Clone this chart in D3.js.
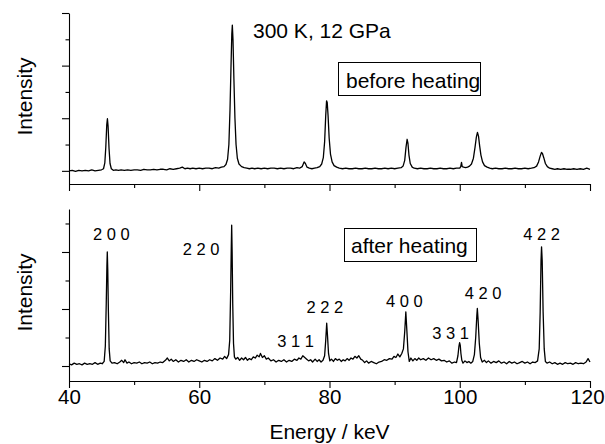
<!DOCTYPE html>
<html>
<head>
<meta charset="utf-8">
<script src="https://cdn.jsdelivr.net/npm/d3@7/dist/d3.min.js"></script>
<style>
  html, body { margin: 0; padding: 0; background: #fff; }
  svg { display: block; font-family: "Liberation Sans", Arial, sans-serif; }
</style>
</head>
<body>
<svg id="chart" width="605" height="444"></svg>
<script>
// ---------- data (energy keV, intensity arb. units) ----------
const xTicksMajor = [40, 60, 80, 100, 120];
const xTicksMinor = [50, 70, 90, 110];
const topTicksMajor = [0, 1, 2, 3];
const topTicksMinor = [0.5, 1.5, 2.5];
const bottomTicksMajor = [0, 1, 2];
const bottomTicksMinor = [0.5, 1.5, 2.5];

const beforeHeating = [
[40.0,0.00],[40.5,0.01],[41.0,-0.01],[41.5,0.01],[42.0,0.00],[42.5,0.01],[43.0,0.00],[43.5,0.02],[44.0,0.00],[44.5,0.01],
[45.0,0.02],[45.3,0.04],[45.5,0.15],[45.65,0.45],[45.8,0.88],[45.9,0.99],[46.0,0.85],[46.15,0.42],[46.3,0.14],[46.5,0.04],
[46.8,0.01],[47.2,0.02],[47.6,0.01],[48.0,0.02],[48.5,0.01],[49.0,0.02],[49.5,0.01],[50.0,0.02],[50.5,0.02],[51.0,0.01],
[51.5,0.03],[52.0,0.02],[52.5,0.02],[53.0,0.03],[53.5,0.02],[54.0,0.03],[54.5,0.03],[55.0,0.02],[55.5,0.04],[56.0,0.03],
[56.5,0.04],[57.0,0.05],[57.4,0.07],[57.8,0.04],[58.2,0.05],[58.6,0.04],[59.0,0.05],[59.5,0.04],[60.0,0.05],[60.5,0.04],
[61.0,0.05],[61.5,0.05],[62.0,0.04],[62.5,0.06],[63.0,0.05],[63.4,0.07],[63.8,0.08],[64.1,0.12],[64.35,0.22],[64.55,0.5],
[64.72,1.15],[64.87,1.95],[65.0,2.6],[65.08,2.77],[65.18,2.5],[65.32,1.75],[65.48,1.0],[65.65,0.5],[65.85,0.24],[66.1,0.13],
[66.5,0.08],[66.9,0.06],[67.3,0.05],[67.7,0.04],[68.1,0.05],[68.5,0.04],[69.0,0.05],[69.5,0.04],[70.0,0.05],[70.5,0.04],
[71.0,0.05],[71.5,0.05],[72.0,0.04],[72.5,0.05],[73.0,0.04],[73.5,0.05],[74.0,0.05],[74.5,0.04],[75.0,0.06],[75.4,0.05],
[75.8,0.08],[76.1,0.17],[76.3,0.14],[76.55,0.07],[76.9,0.05],[77.3,0.04],[77.7,0.05],[78.1,0.06],[78.5,0.08],[78.8,0.13],
[79.05,0.25],[79.25,0.55],[79.42,1.05],[79.55,1.33],[79.65,1.30],[79.78,1.05],[79.95,0.62],[80.15,0.32],[80.4,0.17],[80.7,0.10],
[81.1,0.07],[81.5,0.05],[82.0,0.04],[82.5,0.05],[83.0,0.04],[83.5,0.04],[84.0,0.05],[84.5,0.04],[85.0,0.04],[85.5,0.05],
[86.0,0.04],[86.5,0.04],[87.0,0.05],[87.5,0.04],[88.0,0.04],[88.5,0.05],[89.0,0.04],[89.5,0.05],[90.0,0.04],[90.5,0.05],
[91.0,0.06],[91.3,0.09],[91.55,0.2],[91.75,0.45],[91.92,0.60],[92.05,0.52],[92.2,0.3],[92.4,0.14],[92.7,0.07],[93.0,0.05],
[93.5,0.04],[94.0,0.05],[94.5,0.04],[95.0,0.04],[95.5,0.05],[96.0,0.04],[96.5,0.04],[97.0,0.05],[97.5,0.04],[98.0,0.04],
[98.5,0.05],[99.0,0.04],[99.5,0.05],[100.0,0.05],[100.15,0.08],[100.27,0.16],[100.38,0.08],[100.6,0.07],[100.9,0.06],[101.2,0.07],
[101.5,0.09],[101.8,0.13],[102.1,0.24],[102.35,0.45],[102.55,0.64],[102.72,0.73],[102.88,0.66],[103.05,0.48],[103.25,0.3],[103.5,0.17],
[103.8,0.1],[104.2,0.07],[104.6,0.05],[105.0,0.04],[105.5,0.05],[106.0,0.04],[106.5,0.04],[107.0,0.05],[107.5,0.04],[108.0,0.04],
[108.5,0.05],[109.0,0.04],[109.5,0.04],[110.0,0.05],[110.5,0.04],[111.0,0.05],[111.4,0.06],[111.8,0.09],[112.1,0.17],[112.35,0.28],
[112.55,0.35],[112.7,0.33],[112.9,0.25],[113.15,0.14],[113.45,0.08],[113.8,0.05],[114.2,0.04],[114.6,0.03],[115.0,0.04],[115.5,0.03],
[116.0,0.04],[116.5,0.03],[117.0,0.03],[117.5,0.04],[118.0,0.03],[118.5,0.04],[119.0,0.03],[119.5,0.05],[120.0,0.03]
];

const afterHeating = [
[40.0,0.04],[40.4,0.02],[40.8,0.05],[41.2,0.03],[41.6,0.04],[42.0,0.02],[42.4,0.05],[42.8,0.03],[43.2,0.04],[43.6,0.03],
[44.0,0.06],[44.4,0.03],[44.8,0.05],[45.1,0.04],[45.4,0.08],[45.58,0.35],[45.72,1.1],[45.82,1.75],[45.88,2.0],[45.95,1.7],
[46.05,0.95],[46.17,0.3],[46.32,0.09],[46.6,0.05],[47.0,0.06],[47.4,0.04],[47.8,0.07],[48.1,0.10],[48.4,0.06],[48.6,0.11],
[48.9,0.05],[49.2,0.07],[49.6,0.04],[50.0,0.06],[50.4,0.05],[50.8,0.07],[51.2,0.04],[51.6,0.06],[52.0,0.05],[52.4,0.07],
[52.8,0.04],[53.2,0.06],[53.6,0.05],[54.0,0.07],[54.4,0.06],[54.8,0.10],[55.1,0.14],[55.4,0.09],[55.7,0.12],[56.0,0.08],
[56.4,0.11],[56.8,0.07],[57.2,0.10],[57.6,0.08],[58.0,0.11],[58.4,0.07],[58.8,0.10],[59.2,0.08],[59.6,0.11],[60.0,0.09],
[60.4,0.07],[60.8,0.10],[61.2,0.08],[61.6,0.11],[62.0,0.09],[62.4,0.13],[62.8,0.10],[63.2,0.14],[63.6,0.12],[63.9,0.17],
[64.2,0.13],[64.5,0.2],[64.68,0.45],[64.82,1.3],[64.92,2.1],[64.98,2.47],[65.05,2.0],[65.14,1.1],[65.26,0.4],[65.4,0.16],
[65.6,0.12],[65.9,0.15],[66.2,0.10],[66.5,0.14],[66.8,0.11],[67.1,0.15],[67.4,0.10],[67.7,0.13],[68.0,0.11],[68.3,0.16],
[68.6,0.14],[68.9,0.19],[69.2,0.16],[69.4,0.22],[69.7,0.15],[70.0,0.18],[70.3,0.12],[70.6,0.14],[71.0,0.09],[71.4,0.11],
[71.8,0.07],[72.2,0.10],[72.6,0.08],[73.0,0.11],[73.4,0.07],[73.8,0.10],[74.2,0.08],[74.6,0.12],[75.0,0.10],[75.3,0.14],
[75.6,0.12],[75.9,0.18],[76.2,0.15],[76.5,0.12],[76.8,0.09],[77.1,0.11],[77.4,0.07],[77.8,0.12],[78.1,0.08],[78.4,0.11],
[78.7,0.07],[79.0,0.1],[79.25,0.18],[79.42,0.45],[79.57,0.75],[79.7,0.52],[79.85,0.22],[80.05,0.09],[80.3,0.12],[80.6,0.08],
[80.9,0.13],[81.2,0.10],[81.5,0.12],[81.8,0.08],[82.1,0.11],[82.4,0.09],[82.7,0.13],[83.0,0.10],[83.3,0.14],[83.6,0.12],
[83.9,0.17],[84.2,0.14],[84.5,0.18],[84.8,0.12],[85.1,0.10],[85.4,0.06],[85.7,0.09],[86.0,0.05],[86.4,0.08],[86.8,0.06],
[87.2,0.04],[87.6,0.07],[88.0,0.08],[88.4,0.11],[88.8,0.10],[89.2,0.13],[89.6,0.12],[89.9,0.17],[90.2,0.15],[90.5,0.21],
[90.8,0.16],[91.1,0.22],[91.35,0.3],[91.55,0.6],[91.72,0.95],[91.88,0.62],[92.05,0.25],[92.25,0.08],[92.5,0.14],[92.8,0.09],
[93.1,0.13],[93.4,0.10],[93.7,0.14],[94.0,0.11],[94.4,0.13],[94.8,0.10],[95.2,0.14],[95.6,0.11],[96.0,0.13],[96.4,0.10],
[96.8,0.12],[97.2,0.09],[97.6,0.10],[98.0,0.07],[98.4,0.09],[98.8,0.05],[99.2,0.07],[99.5,0.06],[99.72,0.18],[99.88,0.35],
[99.98,0.41],[100.08,0.36],[100.18,0.22],[100.32,0.10],[100.5,0.05],[100.8,0.09],[101.1,0.06],[101.4,0.08],[101.7,0.05],[102.0,0.08],
[102.25,0.2],[102.45,0.5],[102.62,0.88],[102.7,1.01],[102.82,0.8],[103.0,0.4],[103.2,0.15],[103.45,0.07],[103.8,0.10],[104.1,0.06],
[104.4,0.09],[104.8,0.05],[105.2,0.08],[105.6,0.06],[106.0,0.09],[106.4,0.05],[106.8,0.07],[107.2,0.04],[107.6,0.08],[108.0,0.05],
[108.4,0.07],[108.8,0.04],[109.2,0.06],[109.6,0.08],[110.0,0.05],[110.4,0.07],[110.8,0.04],[111.2,0.07],[111.6,0.06],[111.95,0.09],
[112.2,0.3],[112.35,0.95],[112.48,1.85],[112.56,2.09],[112.66,1.85],[112.8,0.95],[112.97,0.3],[113.15,0.08],[113.4,0.05],[113.8,0.07],
[114.2,0.04],[114.6,0.06],[115.0,0.03],[115.4,0.05],[115.8,0.03],[116.2,0.06],[116.6,0.04],[117.0,0.05],[117.4,0.03],[117.8,0.06],
[118.2,0.04],[118.6,0.05],[119.0,0.04],[119.4,0.07],[119.7,0.13],[120.0,0.07]
];

// peak labels (Miller indices) anchored at an energy and intensity in the lower panel
const peakLabels = ["2 0 0", "2 2 0", "3 1 1", "2 2 2", "4 0 0", "3 3 1", "4 2 0", "4 2 2"];
const peakLabelEnergy = [46.5, 60.3, 74.8, 79.3, 91.5, 98.6, 103.6, 112.55];
const peakLabelIntensity = [2.21, 1.95, 0.33, 0.93, 1.03, 0.47, 1.17, 2.21];

// ---------- layout ----------
const svg = d3.select("#chart");
const font = '"Liberation Sans", Arial, sans-serif';

const x = d3.scaleLinear().domain([40, 120]).range([69, 590]);
const yTop = d3.scaleLinear().domain([-0.25, 3]).range([184, 13]);
const yBot = d3.scaleLinear().domain([-0.263, 2.754]).range([381, 209]);

function drawPanel(yScale, majors, minors, data, showXLabels) {
  const y0 = yScale.range()[0];
  const g = svg.append("g");

  // x axis
  const xa = g.append("g").attr("transform", `translate(0,${y0})`)
    .call(d3.axisBottom(x).tickValues(xTicksMajor).tickSize(7).tickSizeOuter(0).tickPadding(1)
      .tickFormat(showXLabels ? d3.format("d") : ""));
  g.append("g").attr("transform", `translate(0,${y0})`)
    .call(d3.axisBottom(x).tickValues(xTicksMinor).tickSize(4).tickSizeOuter(0).tickFormat(""))
    .select(".domain").remove();
  xa.selectAll("text").attr("font-size", 20.5).attr("font-family", font).attr("fill", "#000")
    .attr("dx", d => d === 120 ? -3 : 0);

  // y axis
  g.append("g").attr("transform", `translate(${x.range()[0]},0)`)
    .call(d3.axisLeft(yScale).tickValues(majors).tickSize(7).tickSizeOuter(0).tickFormat(""));
  g.append("g").attr("transform", `translate(${x.range()[0]},0)`)
    .call(d3.axisLeft(yScale).tickValues(minors).tickSize(3.5).tickSizeOuter(0).tickFormat(""))
    .select(".domain").remove();

  g.selectAll(".domain, .tick line").attr("stroke", "#000").attr("stroke-width", 1.1);

  // spectrum
  const line = d3.line().x(d => x(d[0])).y(d => yScale(d[1]));
  g.append("path").datum(data)
    .attr("d", line).attr("fill", "none").attr("stroke", "#000")
    .attr("stroke-width", 1.3).attr("stroke-linejoin", "round");
  return g;
}

drawPanel(yTop, topTicksMajor, topTicksMinor, beforeHeating, false);
drawPanel(yBot, bottomTicksMajor, bottomTicksMinor, afterHeating, true);

// axis titles
svg.append("text").attr("x", 329.5).attr("y", 439).attr("text-anchor", "middle")
  .attr("font-size", 21).attr("fill", "#000").text("Energy / keV");
svg.append("text").attr("transform", "translate(32,96.5) rotate(-90)").attr("text-anchor", "middle")
  .attr("font-size", 21).attr("fill", "#000").text("Intensity");
svg.append("text").attr("transform", "translate(32,292.5) rotate(-90)").attr("text-anchor", "middle")
  .attr("font-size", 21).attr("fill", "#000").text("Intensity");

// annotations
svg.append("text").attr("x", 253).attr("y", 38).attr("font-size", 21).attr("fill", "#000")
  .text("300 K, 12 GPa");

function boxLabel(txt, rx, ry, rw, rh, tx, ty) {
  svg.append("rect").attr("x", rx).attr("y", ry).attr("width", rw).attr("height", rh)
    .attr("fill", "#fff").attr("stroke", "#000").attr("stroke-width", 1);
  svg.append("text").attr("x", tx).attr("y", ty).attr("font-size", 21).attr("fill", "#000").text(txt);
}
boxLabel("before heating", 338.5, 62.5, 142, 33, 346, 88);
boxLabel("after heating", 344.5, 228.5, 132, 33, 351, 253);

svg.append("g").selectAll("text").data(peakLabels).join("text")
  .attr("x", (d, i) => x(peakLabelEnergy[i]))
  .attr("y", (d, i) => yBot(peakLabelIntensity[i]))
  .attr("text-anchor", "middle").attr("font-size", 16.5).attr("fill", "#000")
  .attr("font-family", font)
  .text(d => d);
</script>
</body>
</html>
